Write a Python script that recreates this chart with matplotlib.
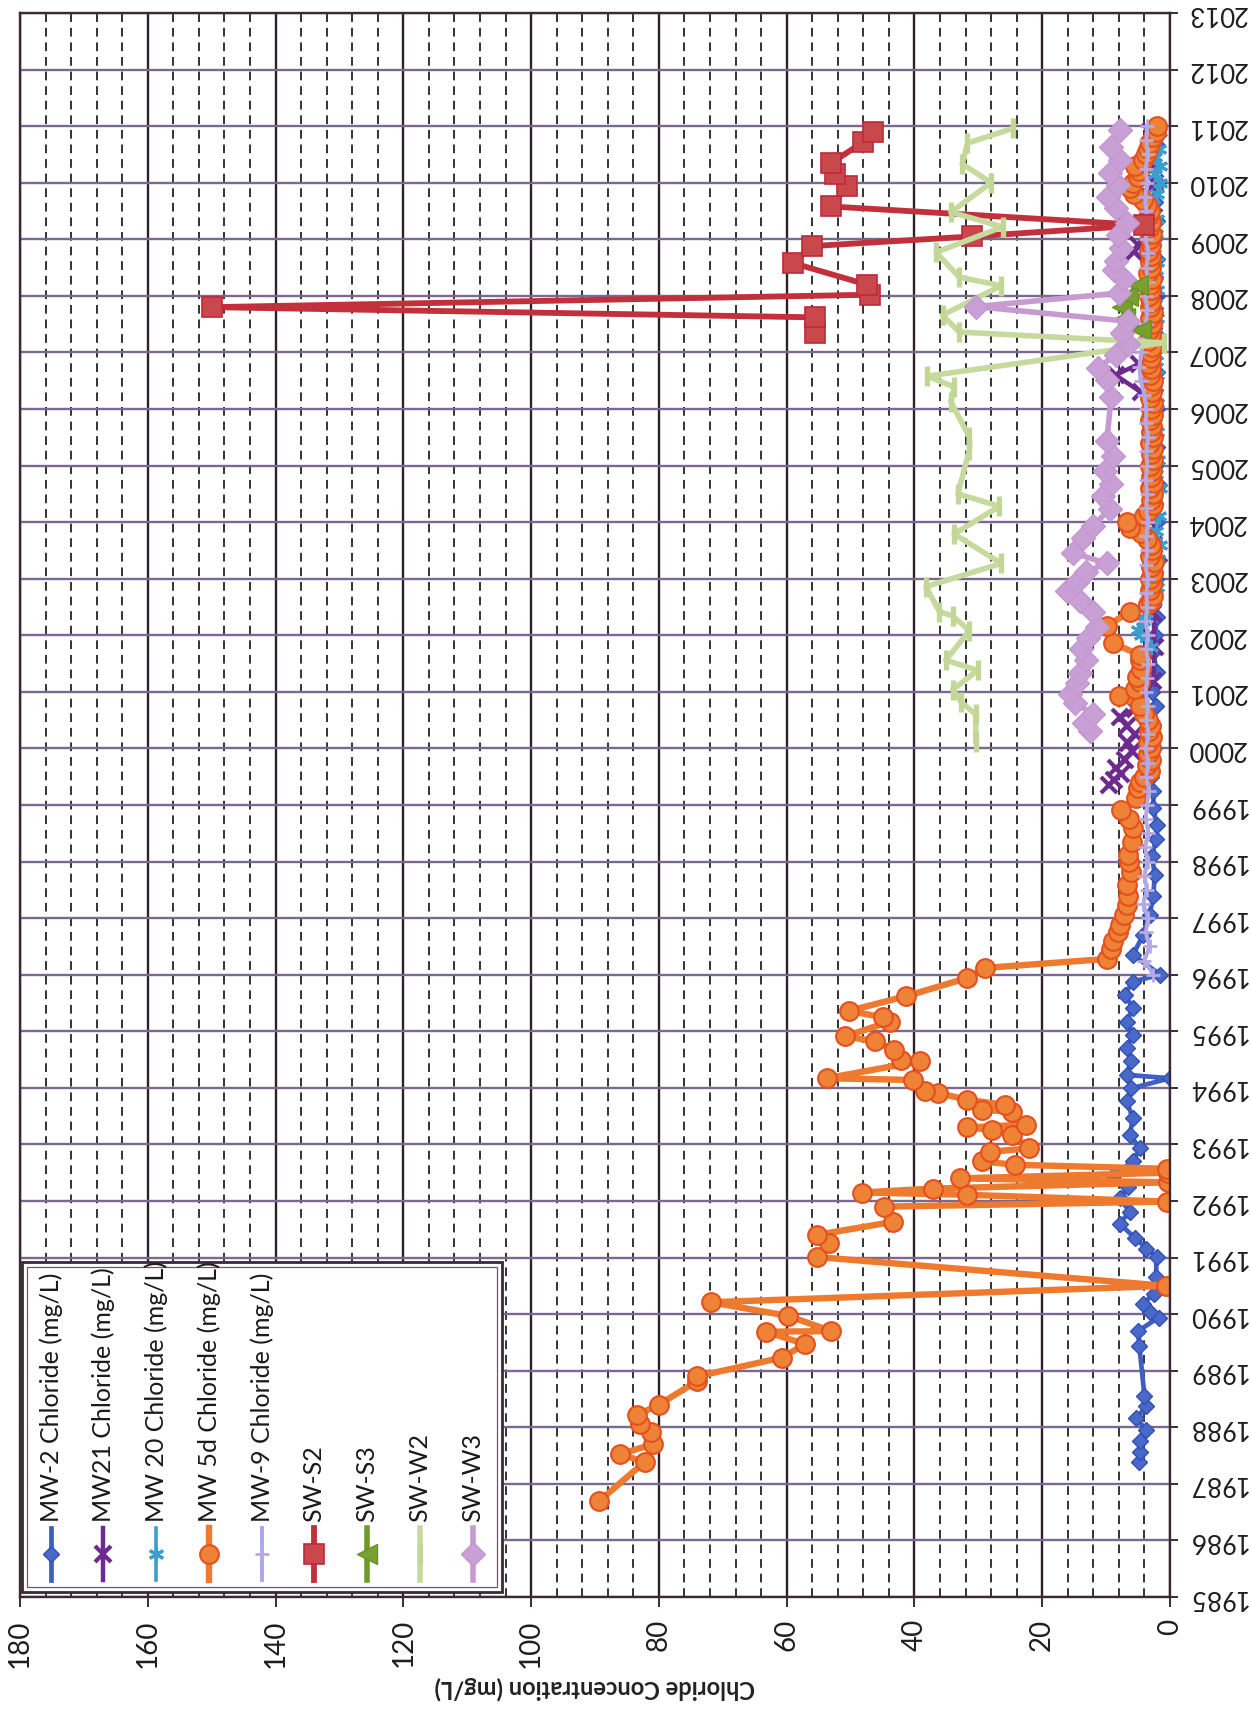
import matplotlib
matplotlib.use('Agg')
import matplotlib.pyplot as plt
from matplotlib.lines import Line2D
from matplotlib.patches import Rectangle

plt.rcParams['font.family'] = ['Lato', 'DejaVu Sans']

# ---------------- data (decimal year, chloride mg/L) ----------------
mw2_years = [1987.38, 1987.56, 1987.75, 1987.95, 1988.16, 1988.37, 1988.56, 1989.44, 1989.70, 1989.94,
             1990.03, 1990.18, 1990.36, 1990.65, 1991.01, 1991.16, 1991.35, 1991.60, 1991.81, 1992.05,
             1992.25, 1992.45, 1992.70, 1992.93, 1993.17, 1993.46, 1993.76, 1993.99, 1994.17, 1994.23,
             1994.47, 1994.70, 1994.94, 1995.17, 1995.41, 1995.65, 1995.88, 1996.00, 1996.35, 1996.70,
             1997.06, 1997.40, 1997.76, 1998.10, 1998.40, 1998.65, 1998.95, 1999.24, 1999.50, 1999.65,
             2000.00, 2000.41, 2000.75, 2001.00, 2001.35, 2001.70, 2002.00, 2002.33, 2002.66, 2003.00,
             2003.33, 2003.66, 2004.00, 2004.33, 2004.66, 2005.00, 2005.33, 2005.66, 2006.00, 2006.33,
             2006.66, 2007.00, 2007.33, 2007.66, 2008.00, 2008.33, 2008.66, 2009.00, 2009.33, 2009.66,
             2010.00, 2010.33, 2010.66, 2011.00]
mw2_vals = [4.8, 4.7, 4.7, 3.7, 5.3, 3.7, 4.0, 4.8, 5.0, 1.8,
            3.1, 4.3, 2.5, 2.2, 2.1, 3.7, 5.5, 7.9, 6.3, 7.9,
            6.5, 9.0, 5.8, 4.7, 6.3, 5.8, 6.8, 6.1, 0.0, 6.8,
            6.1, 6.8, 5.8, 6.8, 5.8, 7.1, 5.8, 1.5, 5.8, 4.2,
            3.2, 2.6, 2.4, 2.8, 2.2, 2.1, 2.6, 2.6, 3.0, 3.4,
            2.5, 2.6, 2.2, 2.8, 2.1, 2.6, 2.4, 2.0, 2.6, 2.2,
            1.8, 2.5, 2.0, 2.4, 1.8, 2.3, 2.0, 2.6, 2.1, 2.4,
            2.0, 2.5, 2.2, 2.6, 2.0, 2.4, 2.1, 2.5, 2.0, 2.3,
            1.9, 2.5, 2.0, 2.2]

mw21_years = [1999.35, 1999.45, 1999.55, 1999.65, 1999.80, 1999.95, 2000.10, 2000.25, 2000.40, 2000.55,
              2000.70, 2001.20, 2001.80, 2002.40, 2003.00, 2003.60, 2004.20, 2004.80, 2005.40, 2006.00,
              2006.30, 2006.60, 2006.80, 2007.30, 2007.90, 2008.50, 2008.78, 2008.90, 2009.40, 2010.00,
              2010.50, 2010.90]
mw21_vals = [9.5, 8.8, 7.6, 8.4, 7.0, 6.0, 6.6, 5.5, 6.8, 7.8,
             5.5, 2.6, 2.4, 2.6, 2.3, 2.5, 2.4, 2.6, 2.3, 2.5,
             4.6, 8.5, 4.8, 2.5, 2.4, 2.6, 5.6, 5.0, 2.5, 2.4,
             2.6, 3.2]

mw20_years = [2001.80, 2002.00, 2002.10, 2002.25, 2002.40, 2002.60, 2002.85, 2003.10, 2003.35, 2003.60,
              2003.85, 2004.10, 2004.35, 2004.60, 2004.85, 2005.10, 2005.35, 2005.60, 2005.85, 2006.10,
              2006.35, 2006.60, 2006.85, 2007.10, 2007.35, 2007.60, 2007.85, 2008.10, 2008.35, 2008.60,
              2008.85, 2009.10, 2009.35, 2009.60, 2009.80, 2010.00, 2010.15, 2010.30, 2010.45, 2010.60,
              2010.75, 2010.90]
mw20_vals = [3.0, 4.6, 5.0, 4.2, 3.8, 2.4, 2.0, 2.3, 1.9, 1.6,
             2.2, 1.8, 2.4, 1.6, 2.2, 1.9, 2.3, 2.0, 2.4, 2.1,
             2.3, 2.0, 2.2, 2.0, 2.4, 2.1, 2.3, 2.0, 2.2, 2.0,
             2.5, 2.2, 2.0, 2.6, 2.0, 1.6, 2.3, 1.5, 2.4, 1.7,
             2.5, 1.6]

mw5d_years = [1986.70, 1987.39, 1987.52, 1987.70, 1987.92, 1988.05, 1988.22, 1988.40, 1988.81, 1988.90,
              1989.23, 1989.47, 1989.69, 1989.70, 1989.97, 1990.21, 1990.50, 1991.01, 1991.25, 1991.40,
              1991.63, 1991.90, 1991.99, 1992.11, 1992.15, 1992.22, 1992.33, 1992.40, 1992.50, 1992.57,
              1992.64, 1992.70, 1992.87, 1992.93, 1993.17, 1993.26, 1993.30, 1993.35, 1993.58, 1993.61,
              1993.70, 1993.79, 1993.91, 1993.95, 1994.14, 1994.17, 1994.47, 1994.50, 1994.67, 1994.82,
              1994.91, 1995.17, 1995.25, 1995.36, 1995.62, 1995.94, 1996.12, 1996.28, 1996.45, 1996.59,
              1996.75, 1996.88, 1997.05, 1997.24, 1997.40, 1997.59, 1997.82, 1998.00, 1998.12, 1998.35,
              1998.59, 1998.75, 1998.91, 1999.12, 1999.30, 1999.41, 1999.50, 1999.60, 1999.70, 1999.80,
              1999.90, 2000.00, 2000.10, 2000.20, 2000.30, 2000.40, 2000.50, 2000.60, 2000.75, 2000.92,
              2001.05, 2001.18, 2001.27, 2001.40, 2001.56, 2001.65, 2001.86, 2002.16, 2002.42, 2002.55,
              2002.6, 2002.7, 2002.8, 2002.9,
              2003.0, 2003.1, 2003.2, 2003.3, 2003.4, 2003.5, 2003.6, 2003.7, 2003.8, 2003.9,
              2004.0, 2004.1, 2004.2, 2004.3, 2004.4, 2004.5, 2004.6, 2004.7, 2004.8, 2004.9,
              2005.0, 2005.1, 2005.2, 2005.3, 2005.4, 2005.5, 2005.6, 2005.7, 2005.8, 2005.9,
              2006.0, 2006.1, 2006.2, 2006.3, 2006.4, 2006.5, 2006.6, 2006.7, 2006.8, 2006.9,
              2007.0, 2007.1, 2007.2, 2007.3, 2007.4, 2007.5, 2007.6, 2007.7, 2007.8, 2007.9,
              2008.0, 2008.1, 2008.2, 2008.3, 2008.4, 2008.5, 2008.6, 2008.7, 2008.8, 2008.9,
              2009.0, 2009.1, 2009.2, 2009.3, 2009.4, 2009.5, 2009.6, 2009.7, 2009.8, 2009.9,
              2010.0, 2010.1, 2010.2, 2010.3, 2010.4, 2010.5, 2010.6, 2010.7, 2010.8, 2010.9,
              2011.0]
mw5d_vals = [89.3, 82.2, 86.1, 81.0, 81.2, 83.0, 83.4, 80.0, 74.1, 74.0,
             60.8, 57.1, 63.3, 53.0, 59.8, 71.9, 0.6, 55.3, 53.4, 55.3,
             43.4, 44.7, 0.5, 31.8, 48.2, 37.1, 0.3, 32.9, 0.3, 0.5,
             24.2, 29.5, 28.2, 22.1, 24.7, 27.9, 31.8, 22.6, 24.7, 29.5,
             25.8, 31.8, 36.3, 38.4, 40.3, 53.7, 39.2, 42.1, 43.2, 46.1,
             50.8, 43.9, 45.0, 50.3, 41.3, 31.8, 28.9, 9.8, 9.2, 8.9,
             8.2, 7.9, 7.2, 6.8, 6.5, 6.8, 6.1, 6.4, 6.6, 6.0,
             5.8, 6.4, 7.6, 5.3, 5.0, 4.7, 4.0, 3.2, 3.6, 3.0,
             3.4, 3.0, 3.5, 2.8, 3.3, 2.9, 3.5, 4.0, 4.7, 8.0,
             5.5, 4.7, 5.2, 4.5, 4.7, 4.7, 8.9, 9.9, 6.3, 3.5,
             3.0, 2.6, 3.2, 2.8,
             3.1, 2.7, 3.0, 2.5, 3.2, 2.8, 3.0, 3.6, 4.5, 6.2,
             6.8, 4.0, 3.4, 2.6, 3.0, 2.7, 3.1, 2.6, 3.0, 2.8,
             3.2, 2.6, 3.0, 2.7, 3.1, 2.6, 3.0, 2.8, 3.2, 2.7,
             3.0, 2.6, 3.1, 2.8, 3.0, 2.7, 3.2, 2.9, 3.4, 3.0,
             3.2, 2.8, 3.4, 3.0, 3.3, 2.8, 3.1, 2.7, 3.2, 3.0,
             3.3, 2.9, 3.2, 2.8, 3.4, 3.0, 3.2, 2.9, 3.3, 3.0,
             3.2, 2.8, 3.3, 3.0, 3.5, 3.1, 3.6, 4.2, 5.6, 6.2,
             5.8, 5.0, 4.8, 5.5, 4.2, 3.8, 3.4, 3.2, 2.6, 2.2,
             2.0]

mw9_years = [1996.00, 1996.25, 1996.50, 1996.75, 1997.00, 1997.25, 1997.50, 1997.75, 1998.00, 1998.25,
             1998.50, 1998.75, 1999.00, 1999.25, 1999.50, 1999.75, 2000.00, 2000.25, 2000.50, 2000.75,
             2001.00, 2001.25, 2001.50, 2001.75, 2002.00, 2002.25, 2002.50, 2002.75, 2003.00, 2003.25,
             2003.50, 2003.75, 2004.00, 2004.25, 2004.50, 2004.75, 2005.00, 2005.25, 2005.50, 2005.75,
             2006.00, 2006.25, 2006.50, 2006.75, 2007.00, 2007.25, 2007.50, 2007.75, 2008.00, 2008.25,
             2008.50, 2008.75, 2009.00, 2009.25, 2009.50, 2009.75, 2010.00, 2010.25, 2010.50, 2010.75,
             2011.00]
mw9_vals = [2.6, 4.0, 3.2, 3.8, 3.4, 4.2, 3.6, 4.0, 3.5, 3.9,
            3.4, 3.8, 3.6, 3.3, 3.7, 3.5, 3.8, 3.4, 3.7, 3.5,
            3.8, 3.6, 3.4, 3.7, 3.5, 3.8, 3.6, 3.7, 3.5, 3.8,
            3.6, 3.7, 3.5, 3.7, 3.6, 3.8, 3.6, 3.7, 3.5, 3.8,
            3.7, 4.0, 4.6, 4.8, 4.5, 4.0, 3.8, 3.6, 3.8, 3.5,
            3.7, 3.4, 3.8, 3.5, 3.7, 3.9, 3.6, 3.8, 3.5, 3.7,
            3.6]

sws2_years = [2007.35, 2007.62, 2007.80, 2008.02, 2008.20, 2008.58, 2008.88, 2009.05, 2009.25, 2009.58,
              2009.95, 2010.15, 2010.35, 2010.72, 2010.90]
sws2_vals = [55.5, 55.5, 150.0, 47.0, 47.5, 59.0, 56.0, 31.0, 4.0, 53.0,
             50.5, 52.5, 53.0, 48.0, 46.5]

sws3_years = [2007.40, 2007.60, 2007.80, 2008.00, 2008.20]
sws3_vals = [4.5, 7.0, 7.5, 6.5, 5.0]

sww2_years = [2000.12, 2000.60, 2000.82, 2001.04, 2001.38, 2001.56, 2002.08, 2002.34, 2002.42, 2002.86,
              2003.27, 2003.79, 2004.28, 2004.50, 2005.28, 2005.50, 2006.13, 2006.39, 2006.58, 2007.17,
              2007.36, 2007.66, 2008.18, 2008.33, 2008.77, 2009.22, 2009.48, 2010.00, 2010.33, 2010.70,
              2010.96]
sww2_vals = [30.4, 30.4, 32.7, 34.0, 30.1, 35.1, 31.4, 34.0, 36.1, 38.2,
             26.4, 33.8, 26.7, 33.2, 31.4, 31.4, 34.3, 33.8, 38.0, 1.0,
             33.0, 35.6, 26.4, 33.0, 36.6, 26.2, 34.3, 28.0, 32.5, 31.7,
             24.6]

sww3_years = [2000.30, 2000.45, 2000.60, 2000.80, 2000.97, 2001.15, 2001.34, 2001.56, 2001.75, 2001.95,
              2002.15, 2002.42, 2002.60, 2002.79, 2002.95, 2003.12, 2003.27, 2003.46, 2003.72, 2003.94,
              2004.24, 2004.46, 2004.68, 2004.91, 2005.17, 2005.43, 2006.21, 2006.51, 2006.73, 2006.95,
              2007.15, 2007.35, 2007.55, 2007.81, 2008.05, 2008.30, 2008.45, 2008.62, 2008.85, 2009.07,
              2009.29, 2009.55, 2009.74, 2009.96, 2010.18, 2010.41, 2010.63, 2010.93]
sww3_vals = [12.6, 13.5, 12.0, 14.8, 15.7, 14.5, 14.1, 13.1, 14.0, 12.8,
             11.5, 12.0, 14.1, 16.2, 14.5, 13.1, 9.9, 15.2, 13.6, 12.0,
             9.4, 10.5, 9.2, 10.2, 8.9, 9.9, 9.2, 9.9, 11.3, 8.5,
             6.5, 7.5, 6.5, 30.4, 8.0, 7.2, 8.8, 8.4, 7.6, 8.1,
             6.8, 8.4, 9.7, 8.1, 9.4, 7.9, 9.2, 7.9]

series_names = ['MW-2 Chloride (mg/L)', 'MW21 Chloride (mg/L)', 'MW 20 Chloride (mg/L)',
                'MW 5d Chloride (mg/L)', 'MW-9 Chloride (mg/L)', 'SW-S2', 'SW-S3', 'SW-W2', 'SW-W3']
year_ticks = list(range(1985, 2014))
conc_ticks = list(range(0, 181, 20))

# ---------------- styles ----------------
styles = [
    dict(color='#3F5FC2', lw=3.4, marker='D', ms=8, mfc='#4A68C8', mec='#3050B8', mew=1.0),
    dict(color='#6E2A8E', lw=3.2, marker='x', ms=12, mfc='#6E2A8E', mec='#6E2A8E', mew=3.0),
    dict(color='#3C9DD0', lw=2.6, marker=(6, 2, 0), ms=11, mfc='#3C9DD0', mec='#3C9DD0', mew=2.2),
    dict(color='#EE7A30', lw=4.6, marker='o', ms=13.5, mfc='#EE8236', mec='#E4501E', mew=1.5),
    dict(color='#A7A9EC', lw=2.8, marker='+', ms=10, mfc='#B4A9E4', mec='#B8A8E2', mew=2.0),
    dict(color='#C2303C', lw=4.2, marker='s', ms=14, mfc='#C8484C', mec='#C0283A', mew=1.2),
    dict(color='#6E9A28', lw=4.0, marker='<', ms=14, mfc='#78A030', mec='#6A9226', mew=1.0),
    dict(color='#C6DA9E', lw=4.0, marker='|', ms=15, mfc='#C6DA9E', mec='#C2D696', mew=3.8),
    dict(color='#C79AD2', lw=4.0, marker='D', ms=12, mfc='#C9A0D6', mec='#C296CF', mew=1.0),
]
all_years = [mw2_years, mw21_years, mw20_years, mw5d_years, mw9_years,
             sws2_years, sws3_years, sww2_years, sww3_years]
all_vals = [mw2_vals, mw21_vals, mw20_vals, mw5d_vals, mw9_vals,
            sws2_vals, sws3_vals, sww2_vals, sww3_vals]

W, H = 1251, 1714
fig = plt.figure(figsize=(W / 100, H / 100), dpi=100)
ax = fig.add_axes([20 / W, 1 - 1597 / H, (1170 - 20) / W, (1597 - 13) / H])

for yrs, vals, st in zip(all_years, all_vals, styles):
    ax.plot(vals, yrs, linestyle='-', solid_joinstyle='round', **st)

ax.set_xlim(180, 0)
ax.set_ylim(1985, 2013)

ax.set_xticks(conc_ticks)
ax.set_xticks(list(range(0, 181, 4)), minor=True)
ax.set_yticks(year_ticks)
ax.yaxis.tick_right()

ax.set_axisbelow(True)
ax.grid(which='major', axis='x', color='#2E2028', lw=1.7)
ax.grid(which='minor', axis='x', color='#333333', lw=1.4, linestyle=(0, (4.5, 3)))
ax.grid(which='major', axis='y', color='#7A6890', lw=1.7)

ax.tick_params(axis='x', which='major', direction='out', length=7, width=1.4,
               color='#3A2A34', labelsize=20, pad=9, labelrotation=90)
ax.tick_params(axis='x', which='minor', length=0)
ax.tick_params(axis='y', which='major', direction='out', length=6, width=1.4,
               color='#3A2A34', labelsize=18.5, pad=6, right=True, left=False,
               labelright=True, labelleft=False)
for lab in ax.get_yticklabels():
    lab.set_rotation(180)
    lab.set_verticalalignment('center')
    lab.set_color('#1E1E1E')
for lab in ax.get_xticklabels():
    lab.set_color('#1E1E1E')

for s in ax.spines.values():
    s.set_color('#3A2A34')
    s.set_linewidth(1.7)

ax.set_xlabel('Chloride Concentration (mg/L)', rotation=180, fontsize=17,
              fontweight='bold', color='#222222', labelpad=6)

# ---------------- legend (rotated, drawn in figure pixels) ----------------
def fx(x):
    return x / W

def fy(y):
    return 1 - y / H

fig.add_artist(Rectangle((fx(22), fy(1592)), fx(502) - fx(22), fy(1262) - fy(1592),
                         transform=fig.transFigure, facecolor='white',
                         edgecolor='#3A2A34', lw=2.0, zorder=5))
fig.add_artist(Rectangle((fx(27), fy(1587)), fx(497) - fx(27), fy(1267) - fy(1587),
                         transform=fig.transFigure, facecolor='none',
                         edgecolor='#6A5A66', lw=0.9, zorder=5))
leg_x = [51, 103, 156, 209, 262, 314, 367, 420, 473]
for xp, name, st in zip(leg_x, series_names, styles):
    fig.add_artist(Line2D([fx(xp), fx(xp)], [fy(1580), fy(1528)], transform=fig.transFigure,
                          color=st['color'], lw=st['lw'], zorder=6))
    fig.add_artist(Line2D([fx(xp)], [fy(1554)], transform=fig.transFigure, linestyle='none',
                          marker=st['marker'], ms=st['ms'], mfc=st['mfc'], mec=st['mec'],
                          mew=st['mew'], zorder=7))
    fig.text(fx(xp), fy(1522), name, rotation=90, ha='center', va='bottom',
             fontsize=18, color='#1A1A1A', zorder=8)

fig.savefig('out.png', dpi=100, facecolor='white')
